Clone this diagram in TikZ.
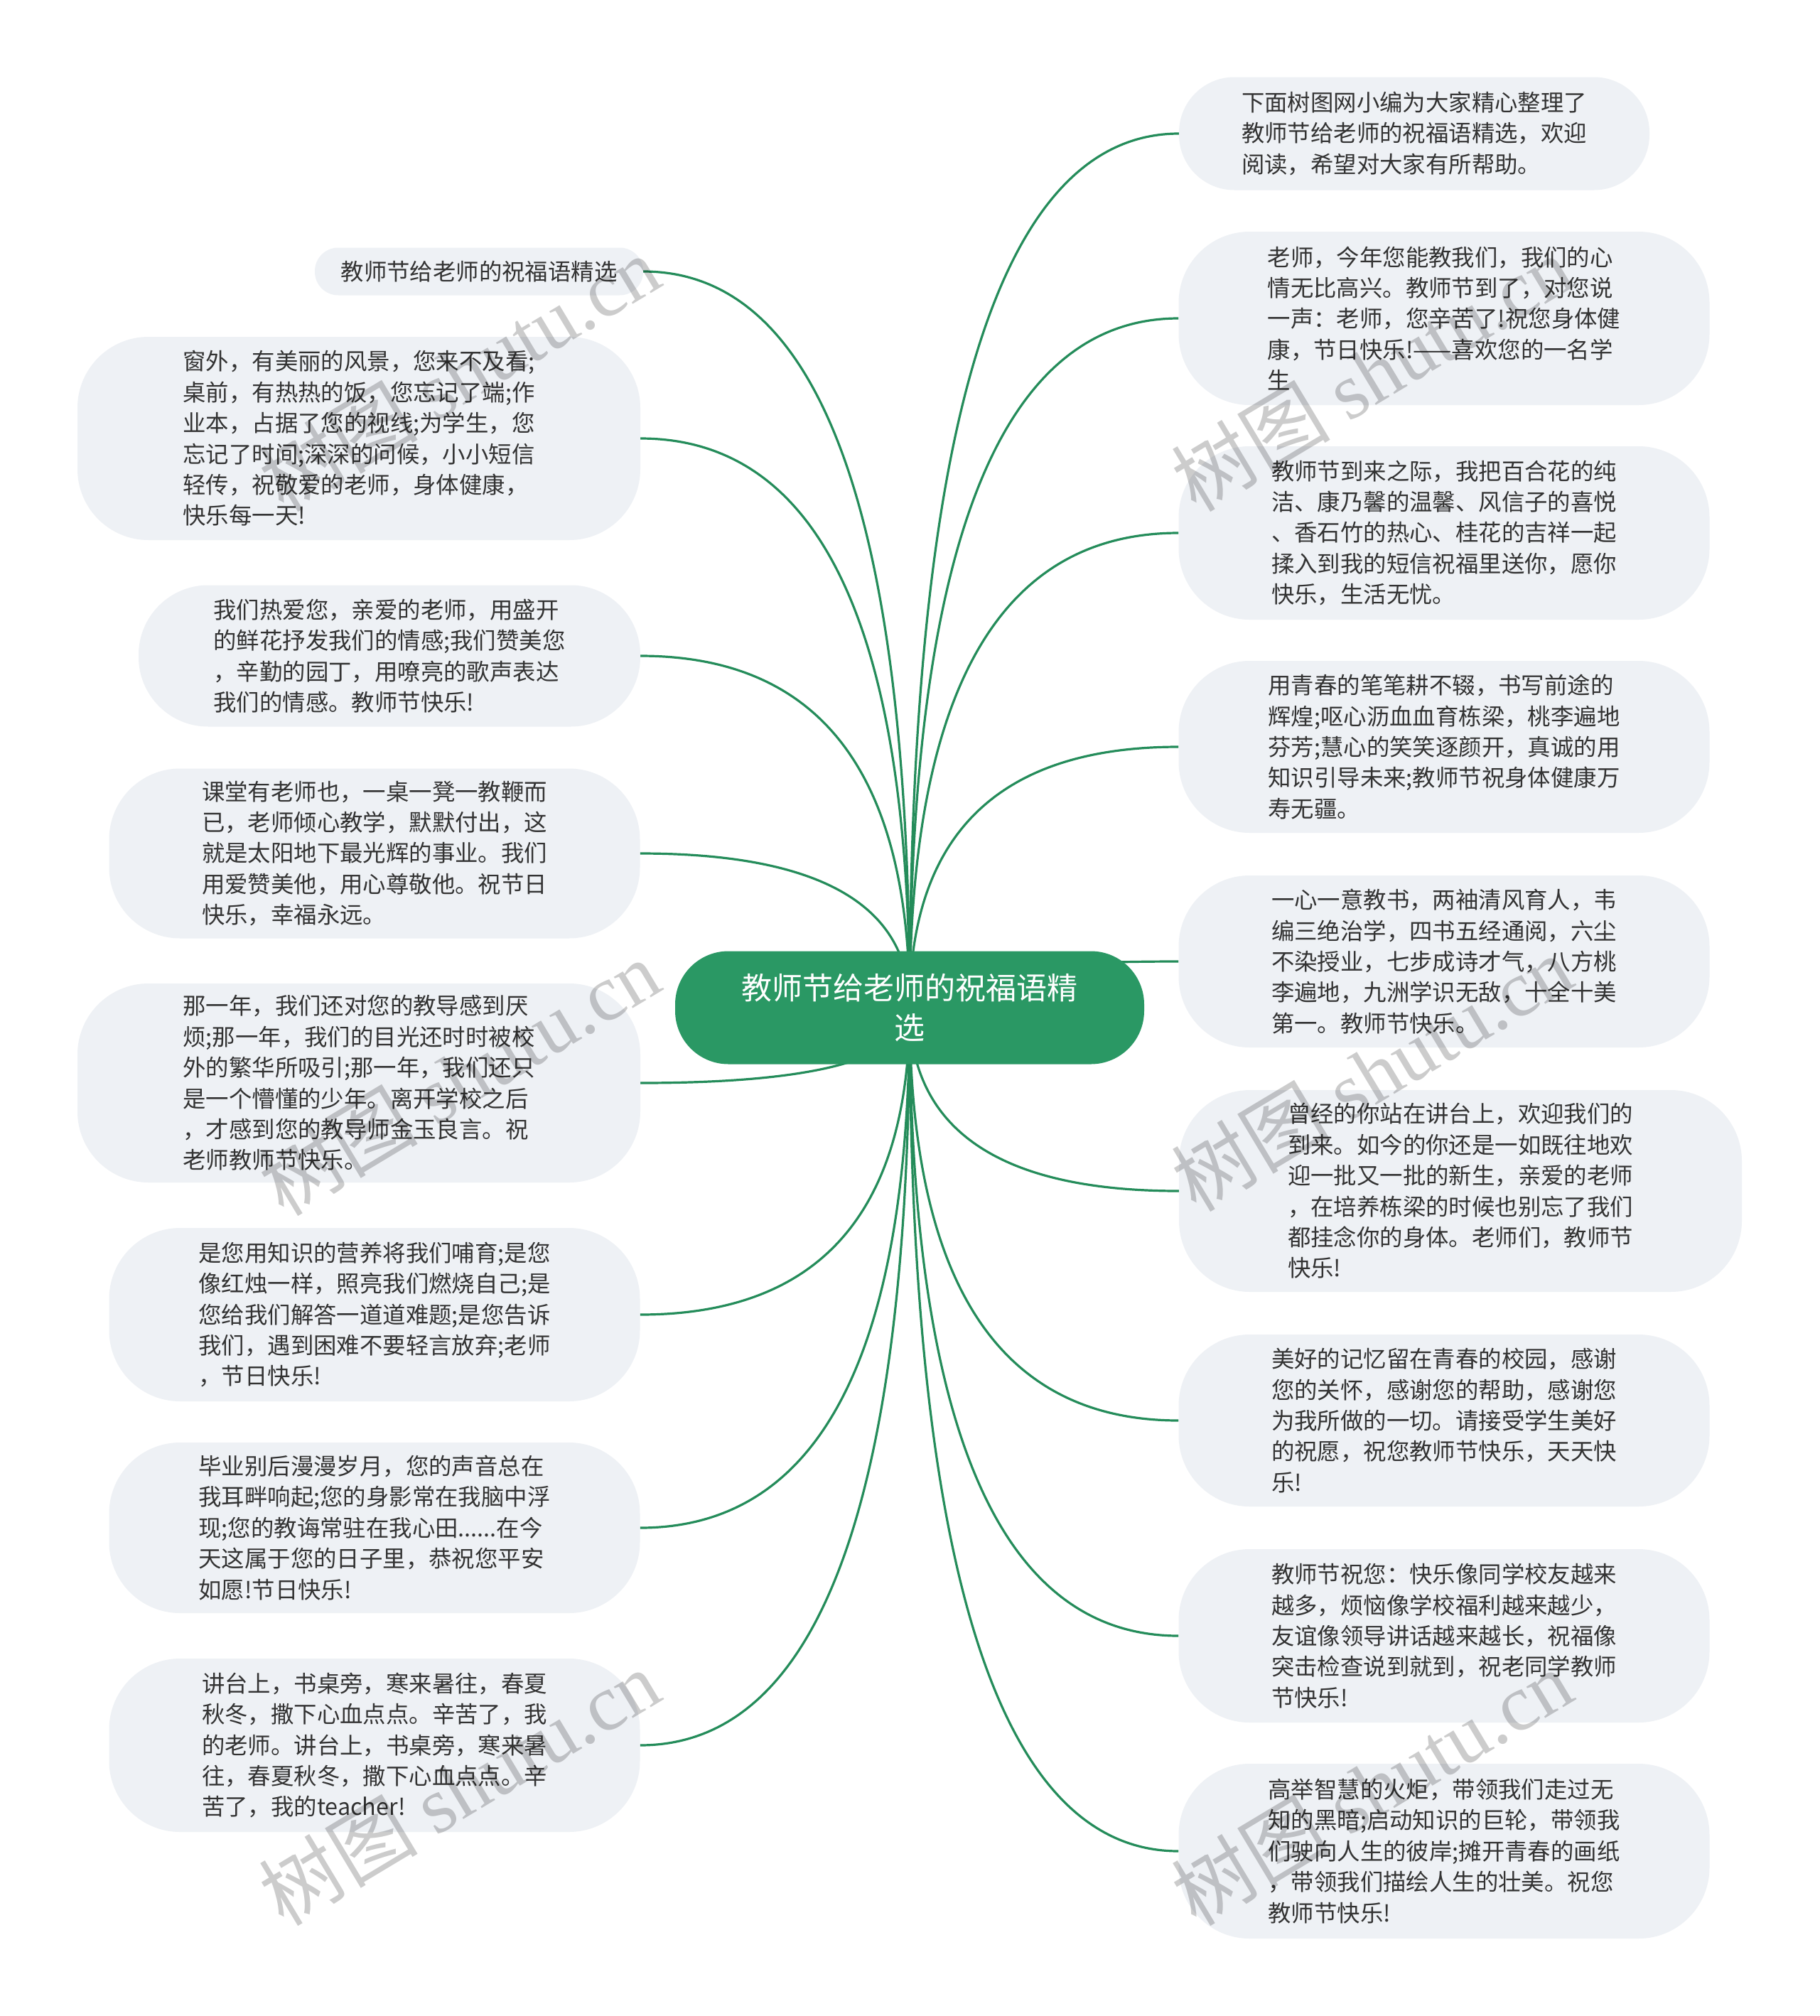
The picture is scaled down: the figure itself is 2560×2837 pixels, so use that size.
\documentclass[tikz,border=0pt]{standalone}
\usepackage{fontspec}
\setmainfont{Noto Sans CJK SC}
\newfontfamily\wmlatin{Liberation Serif}
\usetikzlibrary{calc,backgrounds}
\definecolor{leafbg}{RGB}{238,241,245}
\definecolor{leaftxt}{RGB}{51,51,51}
\definecolor{rootbg}{RGB}{42,152,100}
\definecolor{linkc}{RGB}{36,140,90}
\tikzset{
  leaf/.style={fill=leafbg, text=leaftxt, rounded corners=100pt, align=left, inner sep=0pt,
    font=\fontsize{32.4pt}{43.4pt}\selectfont},
  rootbox/.style={fill=rootbg, text=white, rounded corners=75pt, align=center, inner sep=0pt,
    font=\fontsize{43pt}{56pt}\selectfont, minimum width=660pt, minimum height=159pt},
  conn/.style={draw=linkc, line width=3.2pt},
  wm/.style={text=black, text opacity=0.2, rotate=31, font=\fontsize{112pt}{112pt}\selectfont}
}
\newcommand\linkR[1]{%
  \coordinate (kk) at (c.center |- #1.west);
  \draw[conn] (c.center) .. controls ($(c.center)!0.6667!(kk)$) and ($(#1.west)!0.6667!(kk)$) .. (#1.west);}
\newcommand\linkL[1]{%
  \coordinate (kk) at (c.center |- #1.east);
  \draw[conn] (c.center) .. controls ($(c.center)!0.6667!(kk)$) and ($(#1.east)!0.6667!(kk)$) .. (#1.east);}
\begin{document}
\begin{tikzpicture}[x=1pt,y=-1pt]
\begin{pgfonlayer}{background}
\fill[white] (0,0) rectangle (2560,2837);
\end{pgfonlayer}
\useasboundingbox (0,0) rectangle (2560,2837);

% root
\node[rootbox] (c) at (1280,1418) {教师节给老师的祝福语精\\选};

% left leaves
\node[leaf, rounded corners=33pt, minimum width=462pt, minimum height=67pt] (L1) at (674,382) {教师节给老师的祝福语精选};
\node[leaf, minimum width=792pt, minimum height=286pt] (L2) at (505,617) {窗外，有美丽的风景，您来不及看;\\桌前，有热热的饭，您忘记了端;作\\业本，占据了您的视线;为学生，您\\忘记了时间;深深的问候，小小短信\\轻传，祝敬爱的老师，身体健康，\\快乐每一天!};
\node[leaf, rounded corners=98pt, minimum width=706pt, minimum height=199pt] (L3) at (548,923) {我们热爱您，亲爱的老师，用盛开\\的鲜花抒发我们的情感;我们赞美您\\，辛勤的园丁，用嘹亮的歌声表达\\我们的情感。教师节快乐!};
\node[leaf, minimum width=747pt, minimum height=239pt] (L4) at (527,1201) {课堂有老师也，一桌一凳一教鞭而\\已，老师倾心教学，默默付出，这\\就是太阳地下最光辉的事业。我们\\用爱赞美他，用心尊敬他。祝节日\\快乐，幸福永远。};
\node[leaf, minimum width=792pt, minimum height=280pt] (L5) at (505,1524) {那一年，我们还对您的教导感到厌\\烦;那一年，我们的目光还时时被校\\外的繁华所吸引;那一年，我们还只\\是一个懵懂的少年。离开学校之后\\，才感到您的教导师金玉良言。祝\\老师教师节快乐。};
\node[leaf, minimum width=747pt, minimum height=244pt] (L6) at (527,1850) {是您用知识的营养将我们哺育;是您\\像红烛一样，照亮我们燃烧自己;是\\您给我们解答一道道难题;是您告诉\\我们，遇到困难不要轻言放弃;老师\\，节日快乐!};
\node[leaf, minimum width=747pt, minimum height=240pt] (L7) at (527,2150) {毕业别后漫漫岁月，您的声音总在\\我耳畔响起;您的身影常在我脑中浮\\现;您的教诲常驻在我心田......在今\\天这属于您的日子里，恭祝您平安\\如愿!节日快乐!};
\node[leaf, minimum width=747pt, minimum height=244pt] (L8) at (527,2456) {讲台上，书桌旁，寒来暑往，春夏\\秋冬，撒下心血点点。辛苦了，我\\的老师。讲台上，书桌旁，寒来暑\\往，春夏秋冬，撒下心血点点。辛\\苦了，我的teacher!};

% right leaves
\node[leaf, rounded corners=78pt, minimum width=662pt, minimum height=159pt] (R1) at (1990,188) {下面树图网小编为大家精心整理了\\教师节给老师的祝福语精选，欢迎\\阅读，希望对大家有所帮助。};
\node[leaf, minimum width=747pt, minimum height=244pt] (R2) at (2032,448) {老师，今年您能教我们，我们的心\\情无比高兴。教师节到了，对您说\\一声：老师，您辛苦了!祝您身体健\\康，节日快乐!——喜欢您的一名学\\生};
\node[leaf, minimum width=747pt, minimum height=244pt] (R3) at (2032,750) {教师节到来之际，我把百合花的纯\\洁、康乃馨的温馨、风信子的喜悦\\、香石竹的热心、桂花的吉祥一起\\揉入到我的短信祝福里送你，愿你\\快乐，生活无忧。};
\node[leaf, minimum width=747pt, minimum height=242pt] (R4) at (2032,1051) {用青春的笔笔耕不辍，书写前途的\\辉煌;呕心沥血血育栋梁，桃李遍地\\芬芳;慧心的笑笑逐颜开，真诚的用\\知识引导未来;教师节祝身体健康万\\寿无疆。};
\node[leaf, minimum width=747pt, minimum height=242pt] (R5) at (2032,1353) {一心一意教书，两袖清风育人，韦\\编三绝治学，四书五经通阅，六尘\\不染授业，七步成诗才气，八方桃\\李遍地，九洲学识无敌，十全十美\\第一。教师节快乐。};
\node[leaf, minimum width=792pt, minimum height=284pt] (R6) at (2055,1676) {曾经的你站在讲台上，欢迎我们的\\到来。如今的你还是一如既往地欢\\迎一批又一批的新生，亲爱的老师\\，在培养栋梁的时候也别忘了我们\\都挂念你的身体。老师们，教师节\\快乐!};
\node[leaf, minimum width=747pt, minimum height=242pt] (R7) at (2032,1999) {美好的记忆留在青春的校园，感谢\\您的关怀，感谢您的帮助，感谢您\\为我所做的一切。请接受学生美好\\的祝愿，祝您教师节快乐，天天快\\乐!};
\node[leaf, minimum width=747pt, minimum height=244pt] (R8) at (2032,2302) {教师节祝您：快乐像同学校友越来\\越多，烦恼像学校福利越来越少，\\友谊像领导讲话越来越长，祝福像\\突击检查说到就到，祝老同学教师\\节快乐!};
\node[leaf, minimum width=747pt, minimum height=246pt] (R9) at (2032,2605) {高举智慧的火炬，带领我们走过无\\知的黑暗;启动知识的巨轮，带领我\\们驶向人生的彼岸;摊开青春的画纸\\，带领我们描绘人生的壮美。祝您\\教师节快乐!};

% connectors behind nodes
\begin{pgfonlayer}{background}
\foreach \n in {L1,L2,L3,L4,L5,L6,L7,L8} {\linkL{\n}}
\foreach \n in {R1,R2,R3,R4,R5,R6,R7,R8,R9} {\linkR{\n}}
\end{pgfonlayer}

% watermarks
\foreach \wx/\wy [count=\i] in {646/525,646/1516,646/2515,1930/525,1930/1510,1930/2515} {
  \node[wm] (wm\i) at (\wx,\wy) {树图 {\wmlatin shutu.cn}};
}
\end{tikzpicture}
\end{document}
